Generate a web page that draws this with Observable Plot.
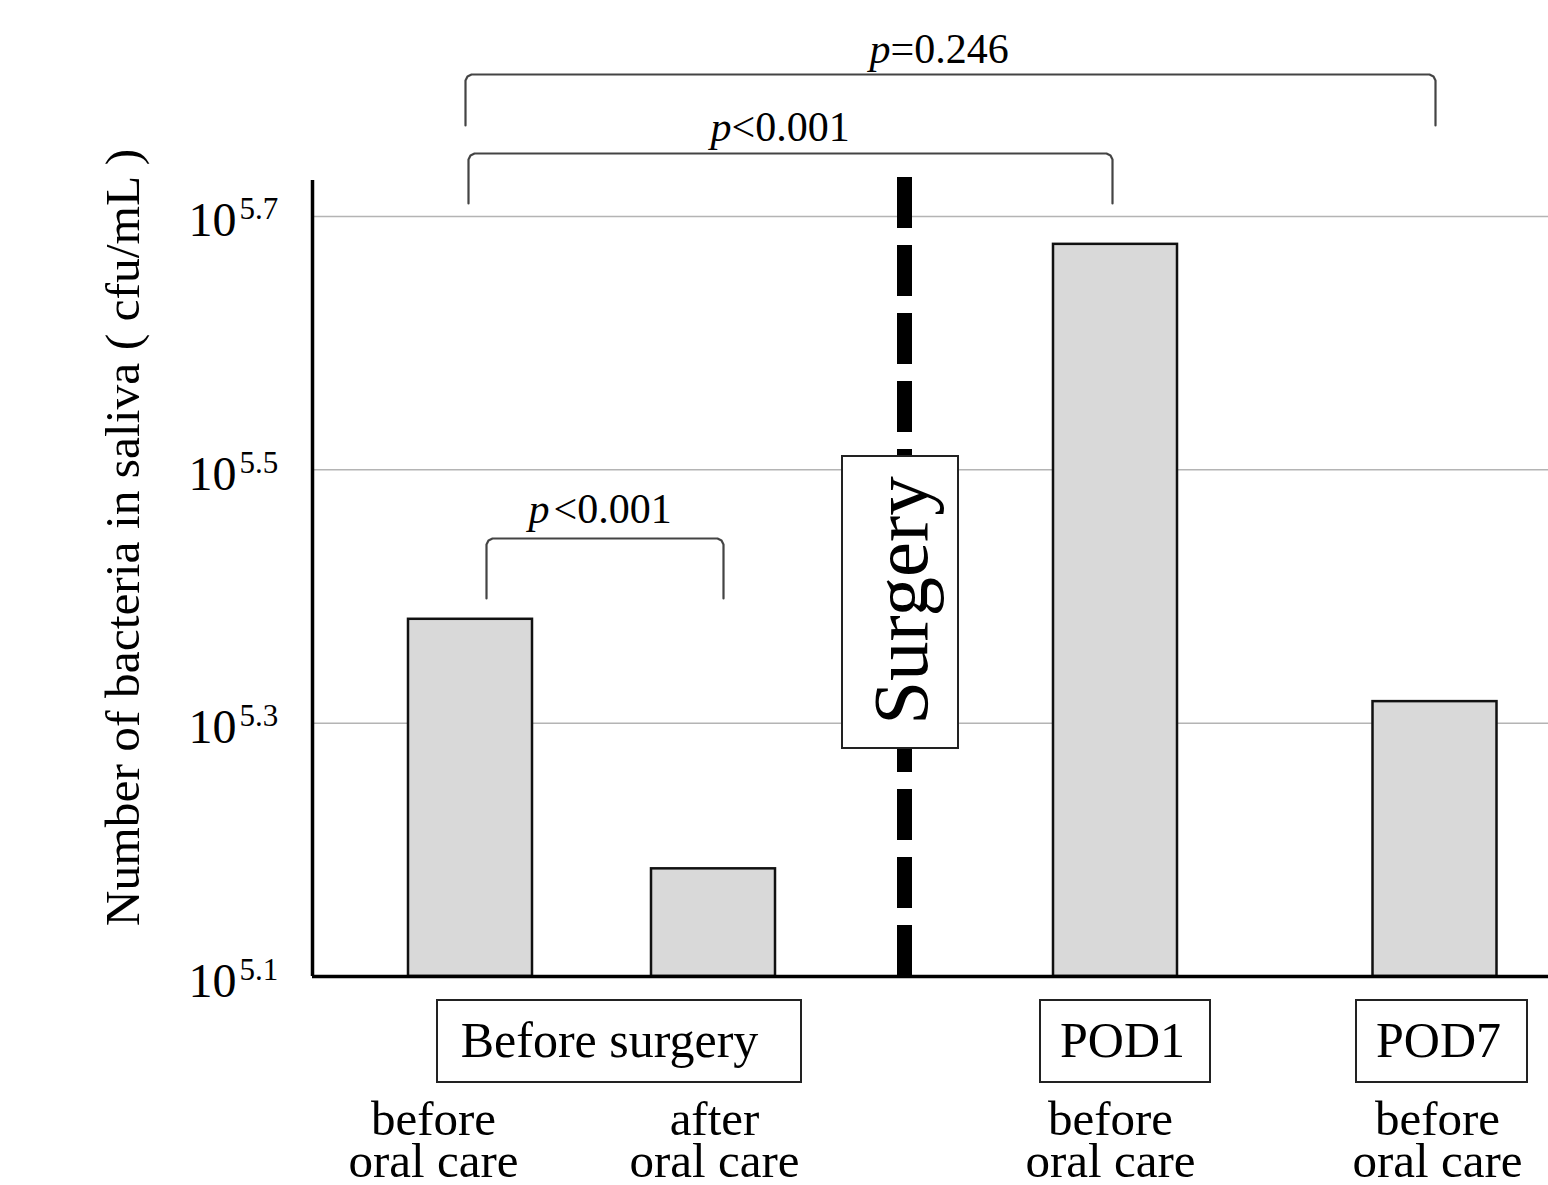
<!DOCTYPE html>
<html><head><meta charset="utf-8">
<script src="https://cdn.jsdelivr.net/npm/d3@7"></script>
<script src="https://cdn.jsdelivr.net/npm/@observablehq/plot@0.6"></script>
<style>body{margin:0;background:#fff} svg{display:block}</style>
</head><body><div id="chart"></div>
<script>
// ---------------- DATA ----------------
const subLabels = ["before\noral care", "after\noral care", "before\noral care", "before\noral care"];
const periods = ["Before surgery", "Before surgery", "POD1", "POD7"];
const log10Values = [5.382, 5.185, 5.678, 5.317];      // log10(cfu/mL)
const yTicks = [5.1, 5.3, 5.5, 5.7];
const groupLabels = ["Before surgery", "POD1", "POD7"];
const compFrom = [0, 0, 0];
const compTo = [3, 2, 1];
const compOp = ["=", "<", "<"];
const compP = ["0.246", "0.001", "0.001"];
const eventLabel = "Surgery";
const yLabel = "Number of bacteria in saliva ( cfu/mL )";

// ---------------- LAYOUT ----------------
const W = 1548, H = 1185, mL = 312, mR = 0, mT = 180, mB = 209;
const xDomain = [0, 12.36];
const yDomain = [5.1, 5.7284];
const X = d3.scaleLinear().domain(xDomain).range([mL, W - mR]);
const Y = d3.scaleLinear().domain(yDomain).range([H - mB, mT]);
const ux = px => X.invert(px), uy = px => Y.invert(px);
const barCenter = [1.58, 4.01, 8.03, 11.225];
const barHalf = 0.62;
const surgeryX = 5.92;
const subLabelX = [433, 714, 1110, 1437];
const groupBox = [[437, 801], [1040, 1210], [1356, 1527]];
const groupTextX = [609, 1122, 1438];
const bracketL = [465, 468, 486], bracketR = [1435, 1112, 723];
const bracketTop = [74, 153, 538], bracketBot = [125, 203, 598];
const pSplit = [890, 731, 549], pBase = [62, 140, 522], pGap = [0, 0, 4];

const font = "Liberation Serif, Times New Roman, serif";

const bars = log10Values.map((v, i) => ({v, c: barCenter[i], period: periods[i], label: subLabels[i], lx: subLabelX[i]}));
const groups = groupLabels.map((g, i) => ({g, x1: groupBox[i][0], x2: groupBox[i][1], tx: groupTextX[i]}));

const bracketPts = [];
compFrom.forEach((a, i) => {
  const L = bracketL[i], R = bracketR[i], T = bracketTop[i], B = bracketBot[i], r = 6;
  [[L, B], [L, T + r], [L + 2, T + 2], [L + r, T], [R - r, T], [R - 2, T + 2], [R, T + r], [R, B]]
    .forEach(([px, py]) => bracketPts.push({k: i, x: ux(px), y: uy(py)}));
});
const pLabels = compP.map((p, i) => ({op: compOp[i] + p, x: ux(pSplit[i]), xr: ux(pSplit[i] + pGap[i]), y: uy(pBase[i])}));

const chart = Plot.plot({
  width: W, height: H,
  marginLeft: mL, marginRight: mR, marginTop: mT, marginBottom: mB,
  x: {domain: xDomain, axis: null},
  y: {domain: yDomain, axis: null},
  style: {fontFamily: font, background: "#fff", color: "#000"},
  marks: [
    // grid
    Plot.ruleY(yTicks.slice(1), {stroke: "#b4b4b4", strokeWidth: 1.5}),
    // bars
    Plot.rect(bars, {x1: d => d.c - barHalf, x2: d => d.c + barHalf, y1: yDomain[0], y2: "v",
      fill: "#d9d9d9", stroke: "#111", strokeWidth: 2.5}),
    // surgery dashed line
    Plot.ruleX([surgeryX], {y1: uy(177), y2: yDomain[0], stroke: "#000", strokeWidth: 15,
      strokeDasharray: "51 17"}),
    Plot.rect([eventLabel], {x1: ux(842), x2: ux(958), y1: uy(748), y2: uy(456),
      fill: "#fff", stroke: "#222", strokeWidth: 2}),
    Plot.text([eventLabel], {x: ux(926), y: uy(600), text: d => d, rotate: -90, fontSize: 79,
      lineAnchor: "bottom", textAnchor: "middle", fill: "#000"}),
    // axes
    Plot.ruleX([xDomain[0]], {y1: yDomain[0], y2: yDomain[1], stroke: "#000", strokeWidth: 3.5}),
    Plot.ruleY([yDomain[0]], {x1: xDomain[0], x2: xDomain[1], stroke: "#000", strokeWidth: 3.5}),
    // y tick labels 10^x
    Plot.text(yTicks, {y: d => d, frameAnchor: "left", dx: 236 - mL, dy: 20, text: () => "10",
      textAnchor: "end", lineAnchor: "bottom", fontSize: 48, fill: "#000"}),
    Plot.text(yTicks, {y: d => d, frameAnchor: "left", dx: 239 - mL, dy: 3, text: d => d.toFixed(1),
      textAnchor: "start", lineAnchor: "bottom", fontSize: 31, fill: "#000"}),
    // y label
    Plot.text([yLabel], {frameAnchor: "left", dx: 138 - mL, dy: 537 - (mT + H - mB) / 2, text: d => d,
      rotate: -90, lineAnchor: "bottom", textAnchor: "middle", fontSize: 49.5, fill: "#000"}),
    // brackets
    Plot.line(bracketPts, {x: "x", y: "y", z: "k", stroke: "#444", strokeWidth: 2.2, curve: "linear"}),
    Plot.text(pLabels, {x: "x", y: "y", text: () => "p", fontStyle: "italic", textAnchor: "end",
      lineAnchor: "bottom", fontSize: 42, fill: "#000"}),
    Plot.text(pLabels, {x: "xr", y: "y", text: "op", textAnchor: "start",
      lineAnchor: "bottom", fontSize: 42, fill: "#000"}),
    // group boxes
    Plot.rect(groups, {x1: d => ux(d.x1), x2: d => ux(d.x2), y1: uy(1082), y2: uy(1000),
      fill: "#fff", stroke: "#222", strokeWidth: 2}),
    Plot.text(groups, {x: d => ux(d.tx), y: uy(1056), text: "g", textAnchor: "middle",
      lineAnchor: "bottom", fontSize: 50, fill: "#000"}),
    // sub labels
    Plot.text(bars, {x: d => ux(d.lx), y: uy(1176), text: "label", textAnchor: "middle",
      lineAnchor: "bottom", lineHeight: 0.84, fontSize: 49, fill: "#000"})
  ]
});
document.getElementById("chart").appendChild(chart);
</script>
</body></html>
